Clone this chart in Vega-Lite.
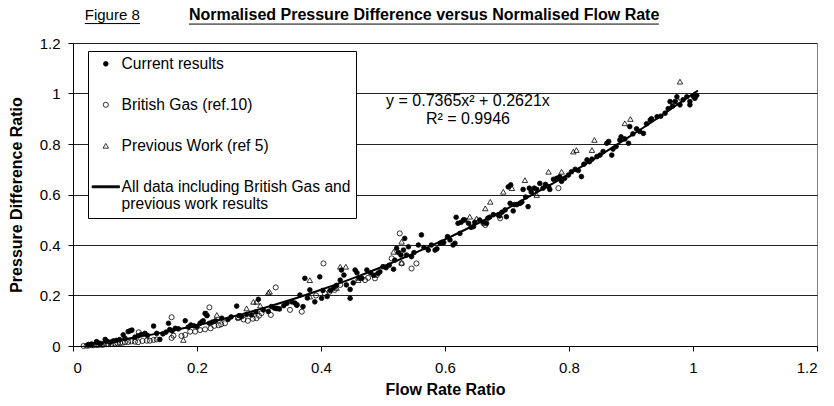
{
  "$schema": "https://vega.github.io/schema/vega-lite/v6.json",
  "width": 744,
  "height": 303,
  "autosize": {"type": "none"},
  "padding": {"left": 73, "top": 43, "right": 17, "bottom": 60},
  "background": "white",
  "config": {
    "font": "Liberation Sans",
    "view": {"stroke": "#808080", "strokeWidth": 1},
    "axis": {"labelFont": "Liberation Sans", "titleFont": "Liberation Sans", "labelColor": "black", "titleColor": "black", "labelFontSize": 15, "titleFontSize": 16, "titleFontWeight": "bold", "domainColor": "black", "tickColor": "black", "tickSize": 5},
    "legend": {"orient": "none", "legendX": 15, "legendY": 8, "strokeColor": "black", "fillColor": "white", "padding": 5, "rowPadding": 24, "labelFont": "Liberation Sans", "labelFontSize": 15.6, "labelColor": "black", "labelLimit": 400, "labelOffset": 8, "symbolOffset": 5, "symbolOpacity": 1, "symbolStrokeColor": "black"}
  },
  "datasets": {
    "points": [
      {"series": "Current results", "x": 0.025, "y": 0.006}, {"series": "Current results", "x": 0.03, "y": 0.008}, {"series": "Current results", "x": 0.038, "y": 0.017}, {"series": "Current results", "x": 0.041, "y": 0.012}, {"series": "Current results", "x": 0.045, "y": 0.01}, {"series": "Current results", "x": 0.052, "y": 0.026}, {"series": "Current results", "x": 0.055, "y": 0.018}, {"series": "Current results", "x": 0.06, "y": 0.015}, {"series": "Current results", "x": 0.065, "y": 0.02}, {"series": "Current results", "x": 0.07, "y": 0.022}, {"series": "Current results", "x": 0.075, "y": 0.025}, {"series": "Current results", "x": 0.081, "y": 0.044}, {"series": "Current results", "x": 0.084, "y": 0.03}, {"series": "Current results", "x": 0.089, "y": 0.057}, {"series": "Current results", "x": 0.092, "y": 0.06}, {"series": "Current results", "x": 0.095, "y": 0.063}, {"series": "Current results", "x": 0.1, "y": 0.035}, {"series": "Current results", "x": 0.105, "y": 0.04}, {"series": "Current results", "x": 0.11, "y": 0.045}, {"series": "Current results", "x": 0.116, "y": 0.05}, {"series": "Current results", "x": 0.12, "y": 0.042}, {"series": "Current results", "x": 0.13, "y": 0.079}, {"series": "Current results", "x": 0.135, "y": 0.05}, {"series": "Current results", "x": 0.14, "y": 0.026}, {"series": "Current results", "x": 0.145, "y": 0.048}, {"series": "Current results", "x": 0.15, "y": 0.055}, {"series": "Current results", "x": 0.154, "y": 0.09}, {"series": "Current results", "x": 0.156, "y": 0.065}, {"series": "Current results", "x": 0.16, "y": 0.06}, {"series": "Current results", "x": 0.165, "y": 0.07}, {"series": "Current results", "x": 0.17, "y": 0.068}, {"series": "Current results", "x": 0.181, "y": 0.1}, {"series": "Current results", "x": 0.186, "y": 0.075}, {"series": "Current results", "x": 0.19, "y": 0.083}, {"series": "Current results", "x": 0.195, "y": 0.08}, {"series": "Current results", "x": 0.2, "y": 0.077}, {"series": "Current results", "x": 0.205, "y": 0.09}, {"series": "Current results", "x": 0.208, "y": 0.096}, {"series": "Current results", "x": 0.21, "y": 0.1}, {"series": "Current results", "x": 0.213, "y": 0.129}, {"series": "Current results", "x": 0.216, "y": 0.12}, {"series": "Current results", "x": 0.22, "y": 0.09}, {"series": "Current results", "x": 0.225, "y": 0.095}, {"series": "Current results", "x": 0.23, "y": 0.1}, {"series": "Current results", "x": 0.24, "y": 0.11}, {"series": "Current results", "x": 0.25, "y": 0.105}, {"series": "Current results", "x": 0.255, "y": 0.115}, {"series": "Current results", "x": 0.264, "y": 0.158}, {"series": "Current results", "x": 0.268, "y": 0.12}, {"series": "Current results", "x": 0.272, "y": 0.116}, {"series": "Current results", "x": 0.28, "y": 0.125}, {"series": "Current results", "x": 0.288, "y": 0.123}, {"series": "Current results", "x": 0.295, "y": 0.135}, {"series": "Current results", "x": 0.299, "y": 0.185}, {"series": "Current results", "x": 0.307, "y": 0.143}, {"series": "Current results", "x": 0.315, "y": 0.137}, {"series": "Current results", "x": 0.32, "y": 0.156}, {"series": "Current results", "x": 0.325, "y": 0.15}, {"series": "Current results", "x": 0.329, "y": 0.149}, {"series": "Current results", "x": 0.333, "y": 0.147}, {"series": "Current results", "x": 0.34, "y": 0.16}, {"series": "Current results", "x": 0.345, "y": 0.169}, {"series": "Current results", "x": 0.353, "y": 0.175}, {"series": "Current results", "x": 0.358, "y": 0.17}, {"series": "Current results", "x": 0.361, "y": 0.162}, {"series": "Current results", "x": 0.366, "y": 0.202}, {"series": "Current results", "x": 0.371, "y": 0.156}, {"series": "Current results", "x": 0.374, "y": 0.268}, {"series": "Current results", "x": 0.378, "y": 0.19}, {"series": "Current results", "x": 0.382, "y": 0.222}, {"series": "Current results", "x": 0.39, "y": 0.175}, {"series": "Current results", "x": 0.398, "y": 0.274}, {"series": "Current results", "x": 0.401, "y": 0.189}, {"series": "Current results", "x": 0.403, "y": 0.22}, {"series": "Current results", "x": 0.41, "y": 0.196}, {"series": "Current results", "x": 0.415, "y": 0.22}, {"series": "Current results", "x": 0.42, "y": 0.23}, {"series": "Current results", "x": 0.425, "y": 0.24}, {"series": "Current results", "x": 0.431, "y": 0.261}, {"series": "Current results", "x": 0.433, "y": 0.301}, {"series": "Current results", "x": 0.437, "y": 0.281}, {"series": "Current results", "x": 0.441, "y": 0.242}, {"series": "Current results", "x": 0.447, "y": 0.224}, {"series": "Current results", "x": 0.447, "y": 0.189}, {"series": "Current results", "x": 0.452, "y": 0.25}, {"series": "Current results", "x": 0.455, "y": 0.301}, {"series": "Current results", "x": 0.458, "y": 0.29}, {"series": "Current results", "x": 0.462, "y": 0.27}, {"series": "Current results", "x": 0.466, "y": 0.268}, {"series": "Current results", "x": 0.474, "y": 0.301}, {"series": "Current results", "x": 0.48, "y": 0.29}, {"series": "Current results", "x": 0.485, "y": 0.28}, {"series": "Current results", "x": 0.492, "y": 0.288}, {"series": "Current results", "x": 0.495, "y": 0.294}, {"series": "Current results", "x": 0.5, "y": 0.314}, {"series": "Current results", "x": 0.505, "y": 0.31}, {"series": "Current results", "x": 0.51, "y": 0.32}, {"series": "Current results", "x": 0.517, "y": 0.304}, {"series": "Current results", "x": 0.519, "y": 0.34}, {"series": "Current results", "x": 0.522, "y": 0.387}, {"series": "Current results", "x": 0.525, "y": 0.37}, {"series": "Current results", "x": 0.529, "y": 0.36}, {"series": "Current results", "x": 0.533, "y": 0.38}, {"series": "Current results", "x": 0.535, "y": 0.426}, {"series": "Current results", "x": 0.538, "y": 0.36}, {"series": "Current results", "x": 0.541, "y": 0.393}, {"series": "Current results", "x": 0.546, "y": 0.354}, {"series": "Current results", "x": 0.55, "y": 0.37}, {"series": "Current results", "x": 0.557, "y": 0.4}, {"series": "Current results", "x": 0.562, "y": 0.44}, {"series": "Current results", "x": 0.566, "y": 0.39}, {"series": "Current results", "x": 0.573, "y": 0.38}, {"series": "Current results", "x": 0.578, "y": 0.4}, {"series": "Current results", "x": 0.584, "y": 0.38}, {"series": "Current results", "x": 0.587, "y": 0.385}, {"series": "Current results", "x": 0.592, "y": 0.407}, {"series": "Current results", "x": 0.598, "y": 0.41}, {"series": "Current results", "x": 0.604, "y": 0.433}, {"series": "Current results", "x": 0.608, "y": 0.42}, {"series": "Current results", "x": 0.613, "y": 0.4}, {"series": "Current results", "x": 0.616, "y": 0.407}, {"series": "Current results", "x": 0.618, "y": 0.51}, {"series": "Current results", "x": 0.621, "y": 0.486}, {"series": "Current results", "x": 0.624, "y": 0.446}, {"series": "Current results", "x": 0.626, "y": 0.49}, {"series": "Current results", "x": 0.63, "y": 0.5}, {"series": "Current results", "x": 0.632, "y": 0.499}, {"series": "Current results", "x": 0.638, "y": 0.486}, {"series": "Current results", "x": 0.642, "y": 0.47}, {"series": "Current results", "x": 0.646, "y": 0.473}, {"series": "Current results", "x": 0.648, "y": 0.49}, {"series": "Current results", "x": 0.656, "y": 0.499}, {"series": "Current results", "x": 0.662, "y": 0.49}, {"series": "Current results", "x": 0.667, "y": 0.486}, {"series": "Current results", "x": 0.669, "y": 0.506}, {"series": "Current results", "x": 0.672, "y": 0.51}, {"series": "Current results", "x": 0.678, "y": 0.52}, {"series": "Current results", "x": 0.686, "y": 0.519}, {"series": "Current results", "x": 0.688, "y": 0.515}, {"series": "Current results", "x": 0.692, "y": 0.53}, {"series": "Current results", "x": 0.697, "y": 0.539}, {"series": "Current results", "x": 0.699, "y": 0.512}, {"series": "Current results", "x": 0.702, "y": 0.63}, {"series": "Current results", "x": 0.705, "y": 0.565}, {"series": "Current results", "x": 0.706, "y": 0.638}, {"series": "Current results", "x": 0.71, "y": 0.535}, {"series": "Current results", "x": 0.712, "y": 0.56}, {"series": "Current results", "x": 0.716, "y": 0.56}, {"series": "Current results", "x": 0.721, "y": 0.565}, {"series": "Current results", "x": 0.724, "y": 0.57}, {"series": "Current results", "x": 0.726, "y": 0.62}, {"series": "Current results", "x": 0.73, "y": 0.59}, {"series": "Current results", "x": 0.734, "y": 0.552}, {"series": "Current results", "x": 0.736, "y": 0.625}, {"series": "Current results", "x": 0.739, "y": 0.61}, {"series": "Current results", "x": 0.744, "y": 0.625}, {"series": "Current results", "x": 0.748, "y": 0.62}, {"series": "Current results", "x": 0.753, "y": 0.644}, {"series": "Current results", "x": 0.758, "y": 0.625}, {"series": "Current results", "x": 0.762, "y": 0.64}, {"series": "Current results", "x": 0.767, "y": 0.631}, {"series": "Current results", "x": 0.769, "y": 0.62}, {"series": "Current results", "x": 0.775, "y": 0.66}, {"series": "Current results", "x": 0.78, "y": 0.664}, {"series": "Current results", "x": 0.785, "y": 0.67}, {"series": "Current results", "x": 0.788, "y": 0.652}, {"series": "Current results", "x": 0.793, "y": 0.664}, {"series": "Current results", "x": 0.799, "y": 0.677}, {"series": "Current results", "x": 0.804, "y": 0.69}, {"series": "Current results", "x": 0.81, "y": 0.7}, {"series": "Current results", "x": 0.815, "y": 0.695}, {"series": "Current results", "x": 0.82, "y": 0.671}, {"series": "Current results", "x": 0.824, "y": 0.72}, {"series": "Current results", "x": 0.829, "y": 0.737}, {"series": "Current results", "x": 0.833, "y": 0.73}, {"series": "Current results", "x": 0.837, "y": 0.74}, {"series": "Current results", "x": 0.845, "y": 0.75}, {"series": "Current results", "x": 0.85, "y": 0.756}, {"series": "Current results", "x": 0.855, "y": 0.77}, {"series": "Current results", "x": 0.861, "y": 0.803}, {"series": "Current results", "x": 0.864, "y": 0.81}, {"series": "Current results", "x": 0.869, "y": 0.756}, {"series": "Current results", "x": 0.871, "y": 0.78}, {"series": "Current results", "x": 0.876, "y": 0.79}, {"series": "Current results", "x": 0.882, "y": 0.816}, {"series": "Current results", "x": 0.884, "y": 0.828}, {"series": "Current results", "x": 0.89, "y": 0.82}, {"series": "Current results", "x": 0.896, "y": 0.803}, {"series": "Current results", "x": 0.898, "y": 0.869}, {"series": "Current results", "x": 0.903, "y": 0.84}, {"series": "Current results", "x": 0.909, "y": 0.86}, {"series": "Current results", "x": 0.914, "y": 0.85}, {"series": "Current results", "x": 0.92, "y": 0.842}, {"series": "Current results", "x": 0.925, "y": 0.88}, {"series": "Current results", "x": 0.931, "y": 0.895}, {"series": "Current results", "x": 0.933, "y": 0.9}, {"series": "Current results", "x": 0.942, "y": 0.908}, {"series": "Current results", "x": 0.948, "y": 0.91}, {"series": "Current results", "x": 0.955, "y": 0.922}, {"series": "Current results", "x": 0.96, "y": 0.94}, {"series": "Current results", "x": 0.963, "y": 0.968}, {"series": "Current results", "x": 0.967, "y": 0.95}, {"series": "Current results", "x": 0.971, "y": 0.968}, {"series": "Current results", "x": 0.974, "y": 0.987}, {"series": "Current results", "x": 0.979, "y": 0.955}, {"series": "Current results", "x": 0.984, "y": 0.975}, {"series": "Current results", "x": 0.99, "y": 0.987}, {"series": "Current results", "x": 0.995, "y": 0.968}, {"series": "Current results", "x": 0.995, "y": 0.955}, {"series": "Current results", "x": 1.0, "y": 0.99}, {"series": "Current results", "x": 1.003, "y": 0.981}, {"series": "Current results", "x": 1.006, "y": 0.993},
      {"series": "British Gas (ref.10)", "x": 0.017, "y": 0.0}, {"series": "British Gas (ref.10)", "x": 0.022, "y": 0.001}, {"series": "British Gas (ref.10)", "x": 0.025, "y": 0.002}, {"series": "British Gas (ref.10)", "x": 0.03, "y": 0.003}, {"series": "British Gas (ref.10)", "x": 0.033, "y": 0.003}, {"series": "British Gas (ref.10)", "x": 0.038, "y": 0.004}, {"series": "British Gas (ref.10)", "x": 0.041, "y": 0.004}, {"series": "British Gas (ref.10)", "x": 0.046, "y": 0.005}, {"series": "British Gas (ref.10)", "x": 0.049, "y": 0.005}, {"series": "British Gas (ref.10)", "x": 0.054, "y": 0.007}, {"series": "British Gas (ref.10)", "x": 0.057, "y": 0.008}, {"series": "British Gas (ref.10)", "x": 0.062, "y": 0.009}, {"series": "British Gas (ref.10)", "x": 0.068, "y": 0.01}, {"series": "British Gas (ref.10)", "x": 0.072, "y": 0.011}, {"series": "British Gas (ref.10)", "x": 0.076, "y": 0.012}, {"series": "British Gas (ref.10)", "x": 0.08, "y": 0.013}, {"series": "British Gas (ref.10)", "x": 0.084, "y": 0.015}, {"series": "British Gas (ref.10)", "x": 0.089, "y": 0.016}, {"series": "British Gas (ref.10)", "x": 0.094, "y": 0.018}, {"series": "British Gas (ref.10)", "x": 0.1, "y": 0.017}, {"series": "British Gas (ref.10)", "x": 0.105, "y": 0.015}, {"series": "British Gas (ref.10)", "x": 0.106, "y": 0.054}, {"series": "British Gas (ref.10)", "x": 0.112, "y": 0.02}, {"series": "British Gas (ref.10)", "x": 0.119, "y": 0.021}, {"series": "British Gas (ref.10)", "x": 0.124, "y": 0.021}, {"series": "British Gas (ref.10)", "x": 0.13, "y": 0.024}, {"series": "British Gas (ref.10)", "x": 0.135, "y": 0.026}, {"series": "British Gas (ref.10)", "x": 0.159, "y": 0.114}, {"series": "British Gas (ref.10)", "x": 0.159, "y": 0.032}, {"series": "British Gas (ref.10)", "x": 0.162, "y": 0.041}, {"series": "British Gas (ref.10)", "x": 0.175, "y": 0.04}, {"series": "British Gas (ref.10)", "x": 0.181, "y": 0.044}, {"series": "British Gas (ref.10)", "x": 0.189, "y": 0.057}, {"series": "British Gas (ref.10)", "x": 0.197, "y": 0.057}, {"series": "British Gas (ref.10)", "x": 0.205, "y": 0.063}, {"series": "British Gas (ref.10)", "x": 0.213, "y": 0.066}, {"series": "British Gas (ref.10)", "x": 0.22, "y": 0.153}, {"series": "British Gas (ref.10)", "x": 0.222, "y": 0.07}, {"series": "British Gas (ref.10)", "x": 0.228, "y": 0.08}, {"series": "British Gas (ref.10)", "x": 0.235, "y": 0.082}, {"series": "British Gas (ref.10)", "x": 0.239, "y": 0.086}, {"series": "British Gas (ref.10)", "x": 0.245, "y": 0.09}, {"series": "British Gas (ref.10)", "x": 0.266, "y": 0.11}, {"series": "British Gas (ref.10)", "x": 0.275, "y": 0.105}, {"series": "British Gas (ref.10)", "x": 0.282, "y": 0.1}, {"series": "British Gas (ref.10)", "x": 0.29, "y": 0.108}, {"series": "British Gas (ref.10)", "x": 0.296, "y": 0.11}, {"series": "British Gas (ref.10)", "x": 0.3, "y": 0.12}, {"series": "British Gas (ref.10)", "x": 0.304, "y": 0.13}, {"series": "British Gas (ref.10)", "x": 0.319, "y": 0.123}, {"series": "British Gas (ref.10)", "x": 0.327, "y": 0.232}, {"series": "British Gas (ref.10)", "x": 0.35, "y": 0.143}, {"series": "British Gas (ref.10)", "x": 0.361, "y": 0.163}, {"series": "British Gas (ref.10)", "x": 0.369, "y": 0.136}, {"series": "British Gas (ref.10)", "x": 0.392, "y": 0.2}, {"series": "British Gas (ref.10)", "x": 0.404, "y": 0.327}, {"series": "British Gas (ref.10)", "x": 0.406, "y": 0.209}, {"series": "British Gas (ref.10)", "x": 0.414, "y": 0.215}, {"series": "British Gas (ref.10)", "x": 0.422, "y": 0.222}, {"series": "British Gas (ref.10)", "x": 0.431, "y": 0.242}, {"series": "British Gas (ref.10)", "x": 0.471, "y": 0.261}, {"series": "British Gas (ref.10)", "x": 0.476, "y": 0.27}, {"series": "British Gas (ref.10)", "x": 0.487, "y": 0.268}, {"series": "British Gas (ref.10)", "x": 0.49, "y": 0.281}, {"series": "British Gas (ref.10)", "x": 0.514, "y": 0.347}, {"series": "British Gas (ref.10)", "x": 0.527, "y": 0.446}, {"series": "British Gas (ref.10)", "x": 0.53, "y": 0.327}, {"series": "British Gas (ref.10)", "x": 0.546, "y": 0.307}, {"series": "British Gas (ref.10)", "x": 0.554, "y": 0.327}, {"series": "British Gas (ref.10)", "x": 0.595, "y": 0.41}, {"series": "British Gas (ref.10)", "x": 0.662, "y": 0.486}, {"series": "British Gas (ref.10)", "x": 0.665, "y": 0.479}, {"series": "British Gas (ref.10)", "x": 0.689, "y": 0.506}, {"series": "British Gas (ref.10)", "x": 0.783, "y": 0.625},
      {"series": "Previous Work (ref 5)", "x": 0.178, "y": 0.024}, {"series": "Previous Work (ref 5)", "x": 0.191, "y": 0.083}, {"series": "Previous Work (ref 5)", "x": 0.216, "y": 0.129}, {"series": "Previous Work (ref 5)", "x": 0.232, "y": 0.123}, {"series": "Previous Work (ref 5)", "x": 0.267, "y": 0.114}, {"series": "Previous Work (ref 5)", "x": 0.28, "y": 0.149}, {"series": "Previous Work (ref 5)", "x": 0.291, "y": 0.175}, {"series": "Previous Work (ref 5)", "x": 0.296, "y": 0.175}, {"series": "Previous Work (ref 5)", "x": 0.302, "y": 0.16}, {"series": "Previous Work (ref 5)", "x": 0.315, "y": 0.211}, {"series": "Previous Work (ref 5)", "x": 0.317, "y": 0.215}, {"series": "Previous Work (ref 5)", "x": 0.331, "y": 0.149}, {"series": "Previous Work (ref 5)", "x": 0.382, "y": 0.261}, {"series": "Previous Work (ref 5)", "x": 0.382, "y": 0.196}, {"series": "Previous Work (ref 5)", "x": 0.425, "y": 0.23}, {"series": "Previous Work (ref 5)", "x": 0.431, "y": 0.314}, {"series": "Previous Work (ref 5)", "x": 0.44, "y": 0.314}, {"series": "Previous Work (ref 5)", "x": 0.46, "y": 0.27}, {"series": "Previous Work (ref 5)", "x": 0.46, "y": 0.261}, {"series": "Previous Work (ref 5)", "x": 0.517, "y": 0.373}, {"series": "Previous Work (ref 5)", "x": 0.53, "y": 0.413}, {"series": "Previous Work (ref 5)", "x": 0.53, "y": 0.33}, {"series": "Previous Work (ref 5)", "x": 0.595, "y": 0.41}, {"series": "Previous Work (ref 5)", "x": 0.64, "y": 0.512}, {"series": "Previous Work (ref 5)", "x": 0.651, "y": 0.505}, {"series": "Previous Work (ref 5)", "x": 0.665, "y": 0.545}, {"series": "Previous Work (ref 5)", "x": 0.673, "y": 0.571}, {"series": "Previous Work (ref 5)", "x": 0.694, "y": 0.611}, {"series": "Previous Work (ref 5)", "x": 0.708, "y": 0.625}, {"series": "Previous Work (ref 5)", "x": 0.729, "y": 0.657}, {"series": "Previous Work (ref 5)", "x": 0.748, "y": 0.598}, {"series": "Previous Work (ref 5)", "x": 0.767, "y": 0.69}, {"series": "Previous Work (ref 5)", "x": 0.788, "y": 0.69}, {"series": "Previous Work (ref 5)", "x": 0.807, "y": 0.77}, {"series": "Previous Work (ref 5)", "x": 0.812, "y": 0.776}, {"series": "Previous Work (ref 5)", "x": 0.837, "y": 0.776}, {"series": "Previous Work (ref 5)", "x": 0.841, "y": 0.816}, {"series": "Previous Work (ref 5)", "x": 0.89, "y": 0.882}, {"series": "Previous Work (ref 5)", "x": 0.899, "y": 0.899}, {"series": "Previous Work (ref 5)", "x": 0.977, "y": 0.97}, {"series": "Previous Work (ref 5)", "x": 0.979, "y": 1.047}
    ],
    "trend": [
      {"x": 0.02, "y": 0.006}, {"x": 0.05, "y": 0.015}, {"x": 0.1, "y": 0.034}, {"x": 0.15, "y": 0.056}, {"x": 0.2, "y": 0.082}, {"x": 0.25, "y": 0.112}, {"x": 0.3, "y": 0.145}, {"x": 0.35, "y": 0.182}, {"x": 0.4, "y": 0.223}, {"x": 0.45, "y": 0.267}, {"x": 0.5, "y": 0.315}, {"x": 0.55, "y": 0.367}, {"x": 0.6, "y": 0.422}, {"x": 0.65, "y": 0.482}, {"x": 0.7, "y": 0.544}, {"x": 0.75, "y": 0.611}, {"x": 0.8, "y": 0.681}, {"x": 0.85, "y": 0.755}, {"x": 0.9, "y": 0.833}, {"x": 0.95, "y": 0.914}, {"x": 1.0, "y": 0.999}, {"x": 1.008, "y": 1.012}
    ],
    "one": [{}]
  },
  "layer": [
    {
      "data": {"name": "points"},
      "mark": {"type": "point", "filled": false, "stroke": "black", "strokeWidth": 0.8, "opacity": 1},
      "encoding": {
        "x": {"field": "x", "type": "quantitative", "scale": {"domain": [0, 1.2], "nice": false, "zero": true},
          "axis": {"values": [0, 0.2, 0.4, 0.6, 0.8, 1, 1.2], "format": "~g", "title": "Flow Rate Ratio", "grid": false, "labelPadding": 9, "titlePadding": 6}},
        "y": {"field": "y", "type": "quantitative", "scale": {"domain": [0, 1.2], "nice": false, "zero": true},
          "axis": {"values": [0, 0.2, 0.4, 0.6, 0.8, 1, 1.2], "format": "~g", "title": "Pressure Difference Ratio", "grid": true, "gridColor": "#222", "gridWidth": 1, "gridOpacity": 1, "labelPadding": 8, "titlePadding": 15}},
        "shape": {"field": "series", "type": "nominal",
          "scale": {"domain": ["Current results", "British Gas (ref.10)", "Previous Work (ref 5)", "All data including British Gas and previous work results"], "range": ["circle", "circle", "triangle-up", "M-4.7,-0.35H4.7V0.35H-4.7Z"]},
          "legend": {"title": null, "symbolStrokeColor": "black", "encode": {"symbols": {"update": {"stroke": {"value": "black"}, "strokeWidth": {"value": 0.8}, "size": {"signal": "datum.value == 'Current results' ? 22 : 36"}}}}, "labelExpr": "indexof(datum.label, 'All data') == 0 ? ['All data including British Gas and', 'previous work results'] : datum.label"}},
        "fill": {"field": "series", "type": "nominal",
          "scale": {"domain": ["Current results", "British Gas (ref.10)", "Previous Work (ref 5)", "All data including British Gas and previous work results"], "range": ["black", "transparent", "transparent", "black"]},
          "legend": {"title": null, "symbolStrokeColor": "black", "encode": {"symbols": {"update": {"stroke": {"value": "black"}, "strokeWidth": {"value": 0.8}, "size": {"signal": "datum.value == 'Current results' ? 22 : 36"}}}}, "labelExpr": "indexof(datum.label, 'All data') == 0 ? ['All data including British Gas and', 'previous work results'] : datum.label"}},
        "size": {"field": "series", "type": "nominal",
          "scale": {"domain": ["Current results", "British Gas (ref.10)", "Previous Work (ref 5)", "All data including British Gas and previous work results"], "range": [22, 34, 40, 36]},
          "legend": {"title": null, "symbolStrokeColor": "black", "encode": {"symbols": {"update": {"stroke": {"value": "black"}, "strokeWidth": {"value": 0.8}, "size": {"signal": "datum.value == 'Current results' ? 22 : 36"}}}}, "labelExpr": "indexof(datum.label, 'All data') == 0 ? ['All data including British Gas and', 'previous work results'] : datum.label"}}
      }
    },
    {
      "data": {"name": "trend"},
      "mark": {"type": "line", "color": "black", "strokeWidth": 2, "interpolate": "monotone"},
      "encoding": {
        "x": {"field": "x", "type": "quantitative"},
        "y": {"field": "y", "type": "quantitative"}
      }
    },
    {
      "data": {"name": "one"},
      "mark": {"type": "text", "align": "center", "baseline": "top", "fontSize": 16, "lineHeight": 18, "color": "black", "font": "Liberation Sans"},
      "encoding": {
        "x": {"datum": 0.637, "type": "quantitative"},
        "y": {"datum": 1.002, "type": "quantitative"},
        "text": {"value": ["y = 0.7365x² + 0.2621x", "R² = 0.9946"]}
      }
    },
    {
      "data": {"name": "one"},
      "mark": {"type": "text", "align": "left", "baseline": "middle", "fontSize": 15, "color": "black", "font": "Liberation Sans"},
      "encoding": {
        "x": {"datum": 0.019, "type": "quantitative"},
        "y": {"datum": 1.311, "type": "quantitative"},
        "text": {"value": "Figure 8"}
      }
    },
    {
      "data": {"name": "one"},
      "mark": {"type": "rule", "color": "black", "strokeWidth": 1},
      "encoding": {
        "x": {"datum": 0.019, "type": "quantitative"},
        "x2": {"datum": 0.108},
        "y": {"datum": 1.277, "type": "quantitative"}
      }
    },
    {
      "data": {"name": "one"},
      "mark": {"type": "text", "align": "left", "baseline": "middle", "fontSize": 16, "fontWeight": "bold", "color": "black", "font": "Liberation Sans"},
      "encoding": {
        "x": {"datum": 0.187, "type": "quantitative"},
        "y": {"datum": 1.311, "type": "quantitative"},
        "text": {"value": "Normalised Pressure Difference versus Normalised Flow Rate"}
      }
    },
    {
      "data": {"name": "one"},
      "mark": {"type": "rule", "color": "black", "strokeWidth": 1},
      "encoding": {
        "x": {"datum": 0.187, "type": "quantitative"},
        "x2": {"datum": 0.945},
        "y": {"datum": 1.275, "type": "quantitative"}
      }
    }
  ]
}
